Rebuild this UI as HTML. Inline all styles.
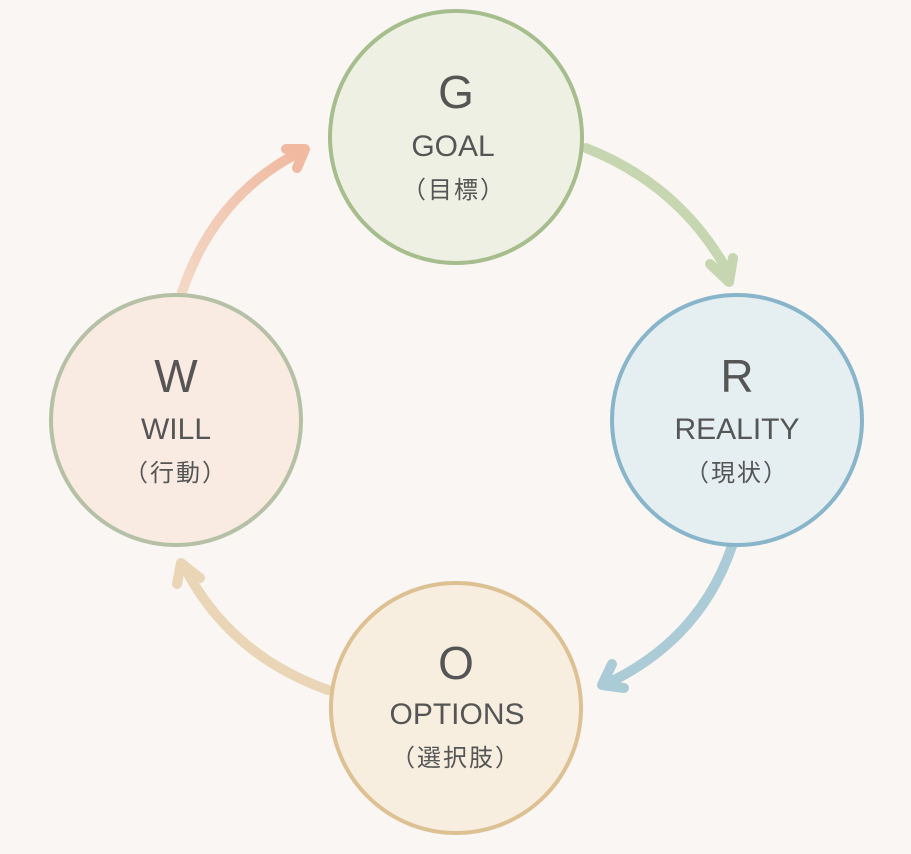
<!DOCTYPE html>
<html><head><meta charset="utf-8"><style>
html,body{margin:0;padding:0;background:#faf6f3;}
svg{display:block}
text{font-family:"Liberation Sans","Noto Sans CJK JP",sans-serif;fill:#555;text-anchor:middle}
.jp{font-size:24px;letter-spacing:2px}
</style></head><body>
<svg width="911" height="854" viewBox="0 0 911 854">
<defs>
<linearGradient id="gw" x1="0" y1="1" x2="1" y2="0"><stop offset="0" stop-color="#f3d8c6"/><stop offset="1" stop-color="#f0b9a0"/></linearGradient>
</defs>
<g fill="none" stroke-width="10" stroke-linecap="round" stroke-linejoin="round">
<path d="M586 148 Q680 185 728 272" stroke="#c6d6b0"/>
<path d="M710 264 L729 282 L733 258" stroke="#c6d6b0"/>
<path d="M732 546 Q700 640 606 684" stroke="#abcbd7"/>
<path d="M612 664 L602 685 L624 688" stroke="#abcbd7"/>
<path d="M328 690 Q230 655 185 568" stroke="#ead5b6"/>
<path d="M200 578 L181 563 L177 584" stroke="#ead5b6"/>
<path d="M182 292 Q215 195 300 152" stroke="url(#gw)"/>
<path d="M286 149 L305 149 L297 168" stroke="#f0b9a0"/>
</g>
<circle cx="456" cy="137" r="126" fill="#edf0e3" stroke="#a6bd8d" stroke-width="4"/>
<circle cx="737" cy="420" r="125" fill="#e5eef1" stroke="#88b5c9" stroke-width="4"/>
<circle cx="456" cy="708" r="125" fill="#f8eedf" stroke="#ddc192" stroke-width="4"/>
<circle cx="176" cy="420" r="125" fill="#f9ebe2" stroke="#b5c0a6" stroke-width="4"/>
<text x="456" y="108" font-size="46">G</text>
<text x="453" y="156" font-size="30">GOAL</text>
<text x="454" y="198" class="jp">（目標）</text>
<text x="737" y="392" font-size="46">R</text>
<text x="737" y="439" font-size="30">REALITY</text>
<text x="737" y="481" class="jp">（現状）</text>
<text x="456" y="679" font-size="46">O</text>
<text x="457" y="724" font-size="30">OPTIONS</text>
<text x="456" y="766" class="jp">（選択肢）</text>
<text x="176" y="392" font-size="46">W</text>
<text x="176" y="439" font-size="30">WILL</text>
<text x="176" y="481" class="jp">（行動）</text>
</svg>
</body></html>
